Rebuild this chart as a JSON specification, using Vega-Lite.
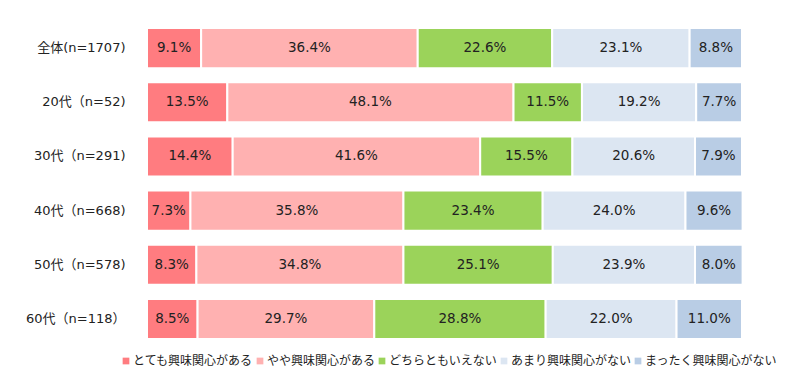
{
  "$schema": "https://vega.github.io/schema/vega-lite/v6.json",
  "width": 595,
  "height": 325,
  "autosize": {"type": "none"},
  "padding": {"left": 147, "top": 21, "right": 58, "bottom": 40},
  "background": "white",
  "config": {
    "view": {"stroke": null},
    "font": "DejaVu Sans, Noto Sans CJK JP"
  },
  "data": {
    "values": [
      {"g": "全体(n=1707)", "cat": "とても興味関心がある", "k": 1, "v": 9.1},
      {"g": "全体(n=1707)", "cat": "やや興味関心がある", "k": 2, "v": 36.4},
      {"g": "全体(n=1707)", "cat": "どちらともいえない", "k": 3, "v": 22.6},
      {"g": "全体(n=1707)", "cat": "あまり興味関心がない", "k": 4, "v": 23.1},
      {"g": "全体(n=1707)", "cat": "まったく興味関心がない", "k": 5, "v": 8.8},
      {"g": "20代（n=52)", "cat": "とても興味関心がある", "k": 1, "v": 13.5},
      {"g": "20代（n=52)", "cat": "やや興味関心がある", "k": 2, "v": 48.1},
      {"g": "20代（n=52)", "cat": "どちらともいえない", "k": 3, "v": 11.5},
      {"g": "20代（n=52)", "cat": "あまり興味関心がない", "k": 4, "v": 19.2},
      {"g": "20代（n=52)", "cat": "まったく興味関心がない", "k": 5, "v": 7.7},
      {"g": "30代（n=291)", "cat": "とても興味関心がある", "k": 1, "v": 14.4},
      {"g": "30代（n=291)", "cat": "やや興味関心がある", "k": 2, "v": 41.6},
      {"g": "30代（n=291)", "cat": "どちらともいえない", "k": 3, "v": 15.5},
      {"g": "30代（n=291)", "cat": "あまり興味関心がない", "k": 4, "v": 20.6},
      {"g": "30代（n=291)", "cat": "まったく興味関心がない", "k": 5, "v": 7.9},
      {"g": "40代（n=668)", "cat": "とても興味関心がある", "k": 1, "v": 7.3},
      {"g": "40代（n=668)", "cat": "やや興味関心がある", "k": 2, "v": 35.8},
      {"g": "40代（n=668)", "cat": "どちらともいえない", "k": 3, "v": 23.4},
      {"g": "40代（n=668)", "cat": "あまり興味関心がない", "k": 4, "v": 24.0},
      {"g": "40代（n=668)", "cat": "まったく興味関心がない", "k": 5, "v": 9.6},
      {"g": "50代（n=578)", "cat": "とても興味関心がある", "k": 1, "v": 8.3},
      {"g": "50代（n=578)", "cat": "やや興味関心がある", "k": 2, "v": 34.8},
      {"g": "50代（n=578)", "cat": "どちらともいえない", "k": 3, "v": 25.1},
      {"g": "50代（n=578)", "cat": "あまり興味関心がない", "k": 4, "v": 23.9},
      {"g": "50代（n=578)", "cat": "まったく興味関心がない", "k": 5, "v": 8.0},
      {"g": "60代（n=118）", "cat": "とても興味関心がある", "k": 1, "v": 8.5},
      {"g": "60代（n=118）", "cat": "やや興味関心がある", "k": 2, "v": 29.7},
      {"g": "60代（n=118）", "cat": "どちらともいえない", "k": 3, "v": 28.8},
      {"g": "60代（n=118）", "cat": "あまり興味関心がない", "k": 4, "v": 22.0},
      {"g": "60代（n=118）", "cat": "まったく興味関心がない", "k": 5, "v": 11.0}
    ]
  },
  "transform": [
    {"stack": "v", "groupby": ["g"], "sort": [{"field": "k", "order": "ascending"}], "as": ["x0", "x1"]},
    {"calculate": "(datum.x0 + datum.x1) / 2", "as": "xm"},
    {"calculate": "format(datum.v, '.1f') + '%'", "as": "lab"}
  ],
  "encoding": {
    "y": {
      "field": "g",
      "type": "nominal",
      "sort": null,
      "scale": {"paddingInner": 0.26, "paddingOuter": 0.13},
      "axis": {
        "title": null,
        "domain": false,
        "ticks": false,
        "labelPadding": 22,
        "labelFontSize": 13,
        "labelColor": "#222222",
        "labelFont": "DejaVu Sans, Noto Sans CJK JP"
      }
    }
  },
  "layer": [
    {
      "mark": {"type": "bar", "stroke": "white", "strokeWidth": 2},
      "encoding": {
        "x": {"field": "x0", "type": "quantitative", "scale": {"domain": [0, 100], "nice": false}, "axis": null},
        "x2": {"field": "x1"},
        "color": {
          "field": "cat",
          "type": "nominal",
          "scale": {
            "domain": ["とても興味関心がある", "やや興味関心がある", "どちらともいえない", "あまり興味関心がない", "まったく興味関心がない"],
            "range": ["#FF7C80", "#FFB1B1", "#9BD35A", "#DCE6F2", "#B9CDE5"]
          },
          "legend": {
            "title": null,
            "orient": "none",
            "direction": "horizontal",
            "legendX": -27,
            "legendY": 334,
            "symbolType": "square",
            "symbolSize": 45,
            "symbolStrokeWidth": 0,
            "labelFontSize": 12,
            "labelColor": "#222222",
            "labelFont": "Noto Sans CJK JP",
            "columnPadding": 0,
            "labelOffset": 1,
            "columns": 5
          }
        }
      }
    },
    {
      "mark": {"type": "text", "fontSize": 13.5, "color": "#222222", "align": "center", "baseline": "middle"},
      "encoding": {
        "x": {"field": "xm", "type": "quantitative"},
        "text": {"field": "lab"}
      }
    }
  ]
}
